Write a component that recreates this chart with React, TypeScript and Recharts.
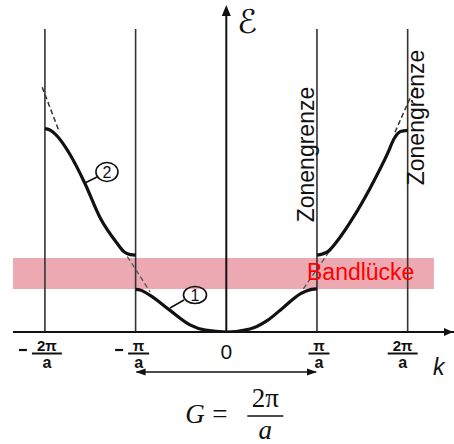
import { LineChart, Line, XAxis, YAxis, ReferenceLine, ReferenceArea, ReferenceDot } from 'recharts';

// k in units of pi/a, energy in arbitrary units
const band1 = [
  { k: -1, e: 0.71 }, { k: -0.95, e: 0.7 }, { k: -0.84, e: 0.61 }, { k: -0.62, e: 0.36 },
  { k: -0.4, e: 0.12 }, { k: -0.23, e: 0.03 }, { k: 0, e: 0 }, { k: 0.26, e: 0.05 },
  { k: 0.45, e: 0.19 }, { k: 0.63, e: 0.41 }, { k: 0.82, e: 0.64 }, { k: 0.94, e: 0.71 },
  { k: 1, e: 0.72 },
];
const band2Left = [
  { k: -2, e: 3.39 }, { k: -1.95, e: 3.37 }, { k: -1.88, e: 3.29 }, { k: -1.8, e: 3.14 },
  { k: -1.72, e: 2.95 }, { k: -1.56, e: 2.48 }, { k: -1.39, e: 1.9 }, { k: -1.2, e: 1.47 },
  { k: -1.13, e: 1.34 }, { k: -1.06, e: 1.29 }, { k: -1, e: 1.28 },
];
const band2Right = [
  { k: 1, e: 1.28 }, { k: 1.06, e: 1.3 }, { k: 1.12, e: 1.34 }, { k: 1.23, e: 1.53 },
  { k: 1.4, e: 1.91 }, { k: 1.59, e: 2.41 }, { k: 1.78, e: 2.98 }, { k: 1.85, e: 3.22 },
  { k: 1.92, e: 3.34 }, { k: 2, e: 3.36 },
];
// free-electron parabola, only drawn where it leaves the bands
const freeLeftTop = [{ k: -2.03, e: 4.08 }, { k: -1.84, e: 3.33 }];
const freeLeftMid = [{ k: -1.14, e: 1.37 }, { k: -0.84, e: 0.67 }];
const freeRightMid = [{ k: 0.85, e: 0.72 }, { k: 1.13, e: 1.33 }];
const freeRightTop = [{ k: 1.86, e: 3.33 }, { k: 2.08, e: 4.08 }];

const kTicks = [-2, -1, 0, 1, 2];
const zoneLines = [-2, -1, 1, 2];
const gap = { from: 0.717, to: 1.233 };

const sans = '"Liberation Sans", Arial, sans-serif';
const serif = '"Liberation Serif", "Times New Roman", serif';

const tickDx: Record<number, number> = { '-2': 2, '-1': 3, '0': 0, '1': 2, '2': -5 };

function KTick(props: any) {
  const { x, y, payload } = props;
  const v = payload.value;
  const cx = x + (tickDx[v] ?? 0);
  if (v === 0) {
    return (
      <text x={cx} y={y + 27} textAnchor="middle" fontFamily={sans} fontSize={21} fill="#111">0</text>
    );
  }
  const num = Math.abs(v) === 2 ? '2π' : 'π';
  const w = Math.abs(v) === 2 ? 30 : 21;
  return (
    <g fill="#111">
      {v < 0 && <line x1={cx - w / 2 - 13} x2={cx - w / 2 - 5} y1={y + 18} y2={y + 18} stroke="#111" strokeWidth={2.2} />}
      <text x={cx} y={y + 18.5} textAnchor="middle" fontFamily={sans} fontWeight="bold" fontSize={15}>{num}</text>
      <line x1={cx - w / 2} x2={cx + w / 2} y1={y + 21.5} y2={y + 21.5} stroke="#111" strokeWidth={2} />
      <text x={cx} y={y + 36} textAnchor="middle" fontFamily={sans} fontWeight="bold" fontSize={16}>a</text>
    </g>
  );
}

const note = (key: string, k: number, e: number, draw: (x: number, y: number) => any) => (
  <ReferenceDot key={key} x={k} y={e} r={0} ifOverflow="visible" shape={(p: any) => draw(p.cx, p.cy)} />
);

const arrow = (dir: 'up' | 'right' | 'left', len = 10, half = 4) => (x: number, y: number) => {
  let pts = '';
  if (dir === 'up') pts = `${x},${y} ${x - half},${y + len} ${x + half},${y + len}`;
  if (dir === 'right') pts = `${x},${y} ${x - len},${y - half} ${x - len},${y + half}`;
  if (dir === 'left') pts = `${x},${y} ${x + len},${y - half} ${x + len},${y + half}`;
  return <polygon points={pts} fill="#111" />;
};

const circled = (n: string, rx: number, ry: number, lx1: number, ly1: number, lx2: number, ly2: number) =>
  (x: number, y: number) => (
    <g>
      <line x1={x + lx1} y1={y + ly1} x2={x + lx2} y2={y + ly2} stroke="#111" strokeWidth={1.5} />
      <ellipse cx={x} cy={y} rx={rx} ry={ry} fill="none" stroke="#111" strokeWidth={1.6} />
      <text x={x} y={y + 6} textAnchor="middle" fontFamily={sans} fontSize={16} fill="#111">{n}</text>
    </g>
  );

export default function App() {
  return (
    <div style={{ position: 'absolute', left: 0, top: 0, background: '#fff' }}>
      <LineChart width={454} height={444} margin={{ top: 5, right: 0, bottom: 52, left: 13 }}>
        <XAxis
          type="number"
          dataKey="k"
          domain={[-2.352, 2.511]}
          allowDataOverflow
          ticks={kTicks}
          tick={<KTick />}
          tickLine={false}
          tickSize={0}
          tickMargin={0}
          height={60}
          axisLine={{ stroke: '#111', strokeWidth: 2 }}
          interval={0}
        />
        <YAxis type="number" dataKey="e" domain={[0, 5.45]} allowDataOverflow hide />

        <ReferenceArea x1={-2.352} x2={2.29} y1={gap.from} y2={gap.to} fill="#e0707f" fillOpacity={0.6} stroke="none" ifOverflow="visible" />

        {zoneLines.map((k) => (
          <ReferenceLine key={k} segment={[{ x: k, y: 0 }, { x: k, y: 5.05 }]} stroke="#333" strokeWidth={1.6} />
        ))}
        <ReferenceLine segment={[{ x: 0, y: 0 }, { x: 0, y: 5.35 }]} stroke="#111" strokeWidth={2} />
        {note('eArrow', 0, 5.45, arrow('up', 11, 4.5))}
        {note('kArrow', 2.5, 0, arrow('right', 9, 4))}

        <Line data={freeLeftTop} dataKey="e" stroke="#333" strokeWidth={1.5} strokeDasharray="5 3" dot={false} isAnimationActive={false} />
        <Line data={freeLeftMid} dataKey="e" stroke="#555" strokeWidth={1.3} strokeDasharray="5 3" dot={false} isAnimationActive={false} />
        <Line data={freeRightMid} dataKey="e" stroke="#555" strokeWidth={1.3} strokeDasharray="5 3" dot={false} isAnimationActive={false} />
        <Line data={freeRightTop} dataKey="e" stroke="#333" strokeWidth={1.5} strokeDasharray="5 3" dot={false} isAnimationActive={false} />

        <Line data={band1} dataKey="e" type="monotone" stroke="#111" strokeWidth={3.2} dot={false} isAnimationActive={false} />
        <Line data={band2Left} dataKey="e" type="monotone" stroke="#111" strokeWidth={3.2} dot={false} isAnimationActive={false} />
        <Line data={band2Right} dataKey="e" type="monotone" stroke="#111" strokeWidth={3.2} dot={false} isAnimationActive={false} />

        {note('n2', -1.316, 2.667, circled('2', 11, 9.5, -22, 11, -10, 5))}
        {note('n1', -0.345, 0.617, circled('1', 11.5, 8.5, -25, 13, -11, 5))}

        {note('E', 0.118, 4.99, (x, y) => (
          <text x={x} y={y} fontFamily='"DejaVu Serif", "DejaVu Sans", serif' fontSize={33} fill="#111">ℰ</text>
        ))}
        {note('zg1', 0.962, 2.958, (x, y) => (
          <text x={x} y={y} transform={`rotate(-90 ${x} ${y})`} textAnchor="middle" fontFamily={sans} fontSize={23} fill="#111">Zonengrenze</text>
        ))}
        {note('zg2', 2.175, 3.575, (x, y) => (
          <text x={x} y={y} transform={`rotate(-90 ${x} ${y})`} textAnchor="middle" fontFamily={sans} fontSize={23} fill="#111">Zonengrenze</text>
        ))}
        {note('gapLabel', 0.89, 0.867, (x, y) => (
          <text x={x} y={y} fontFamily={sans} fontSize={23} fill="#ff0000">Bandlücke</text>
        ))}
        {note('kLabel', 2.28, -0.717, (x, y) => (
          <text x={x} y={y} fontFamily={sans} fontStyle="italic" fontSize={23} fill="#111">k</text>
        ))}

        <ReferenceLine segment={[{ x: -0.99, y: -0.667 }, { x: 0.99, y: -0.667 }]} stroke="#111" strokeWidth={1.5} ifOverflow="visible" />
        {note('gl', -1, -0.667, arrow('left', 10, 3.5))}
        {note('gr', 1, -0.667, arrow('right', 10, 3.5))}

        {note('G', 0, -1.4, (x, y) => (
          <g fill="#111" fontFamily={serif} fontSize={27}>
            <text x={x - 41} y={y + 7} fontStyle="italic">G</text>
            <text x={x - 14} y={y + 7}>=</text>
            <text x={x + 39} y={y - 9} textAnchor="middle">2π</text>
            <line x1={x + 21} x2={x + 57} y1={y} y2={y} stroke="#111" strokeWidth={1.3} />
            <text x={x + 39} y={y + 23} textAnchor="middle" fontStyle="italic">a</text>
          </g>
        ))}
      </LineChart>
    </div>
  );
}
